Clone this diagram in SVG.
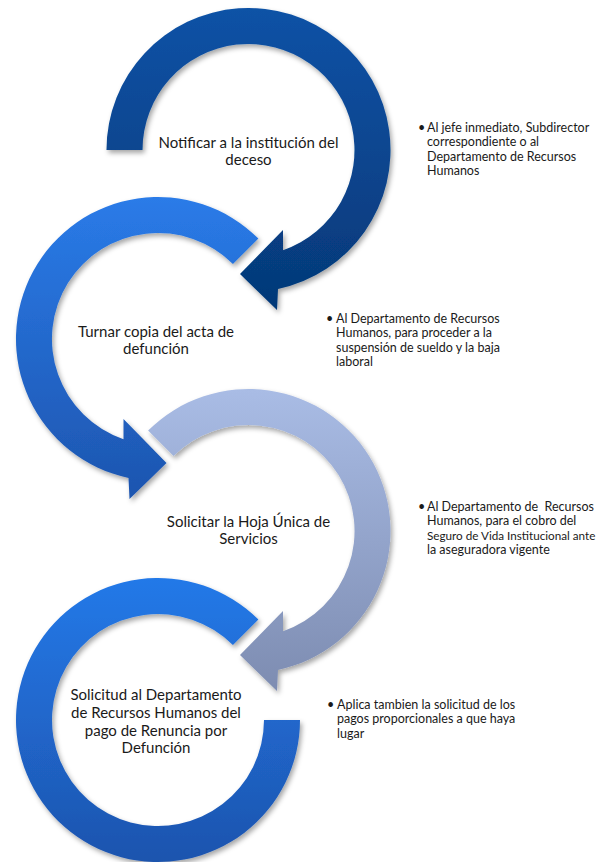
<svg xmlns="http://www.w3.org/2000/svg" width="604" height="862" viewBox="0 0 604 862">
  <defs>
    <linearGradient id="g1" x1="0" y1="0" x2="0" y2="1">
      <stop offset="0" stop-color="#0D52A6"/>
      <stop offset="1" stop-color="#053877"/>
    </linearGradient>
    <linearGradient id="g2" x1="0" y1="0" x2="0" y2="1">
      <stop offset="0" stop-color="#2A7BE8"/>
      <stop offset="1" stop-color="#1D55AF"/>
    </linearGradient>
    <linearGradient id="g3" x1="0" y1="0" x2="0" y2="1">
      <stop offset="0" stop-color="#A9BCE5"/>
      <stop offset="1" stop-color="#7D8CB1"/>
    </linearGradient>
    <linearGradient id="g4" x1="0" y1="0" x2="0" y2="1">
      <stop offset="0" stop-color="#2479E8"/>
      <stop offset="1" stop-color="#1D54AE"/>
    </linearGradient>
    <filter id="sh" x="-10%" y="-10%" width="125%" height="125%">
      <feDropShadow dx="2" dy="3" stdDeviation="2.5" flood-color="#000" flood-opacity="0.35"/>
    </filter>
  </defs>
  <style>
    .node-text { font-family: Lato, "Open Sans", "Liberation Sans", sans-serif; font-size: 15px; fill: #1a1a1a; text-anchor: middle; }
    .note { font-family: Lato, "Open Sans", "Liberation Sans", sans-serif; font-size: 12.5px; fill: #1a1a1a; }
    .arrow { filter: url(#sh); }
  </style>

  <g id="connectors">
    <path id="arrow4" class="arrow" fill="url(#g4)" d="M258.4,619.6 A142,142 0 1 0 300,720 L264,720 A106,106 0 1 1 232.95,645.05 Z"/>
    <path id="arrow3" class="arrow" fill="url(#g3)" d="M148.1,430.6 A142,142 0 1 1 278,669.9 L277,691 L240,655 L283,611 L283,631.2 A106,106 0 1 0 173.55,456.05 Z"/>
    <path id="arrow2" class="arrow" fill="url(#g2)" d="M258.4,238.6 A142,142 0 1 0 128.5,477.9 L129.5,499 L166.5,463 L123.5,419 L123.5,439.2 A106,106 0 1 1 232.95,264.05 Z"/>
    <path id="arrow1" class="arrow" fill="url(#g1)" d="M106.5,150 A142,142 0 1 1 278,288.9 L277,310 L240,274 L283,230 L283,250.2 A106,106 0 1 0 142.5,150 Z"/>
  </g>

  <g id="node1">
    <text class="node-text" x="248.5" y="148">Notificar a la institución del</text>
    <text class="node-text" x="248.5" y="165">deceso</text>
  </g>
  <g id="node2">
    <text class="node-text" x="156" y="337">Turnar copia del acta de</text>
    <text class="node-text" x="156" y="354">defunción</text>
  </g>
  <g id="node3">
    <text class="node-text" x="248.5" y="527">Solicitar la Hoja Única de</text>
    <text class="node-text" x="248.5" y="544">Servicios</text>
  </g>
  <g id="node4">
    <text class="node-text" x="156" y="700">Solicitud al Departamento</text>
    <text class="node-text" x="156" y="718">de Recursos Humanos del</text>
    <text class="node-text" x="156" y="735.5">pago de Renuncia por</text>
    <text class="node-text" x="156" y="752.5">Defunción</text>
  </g>

  <g id="note1">
    <text class="note" x="418" y="132">•</text>
    <text class="note" x="427" y="132">Al jefe inmediato, Subdirector</text>
    <text class="note" x="427" y="146.3">correspondiente o al</text>
    <text class="note" x="427" y="160.5">Departamento de Recursos</text>
    <text class="note" x="427" y="174.8">Humanos</text>
  </g>
  <g id="note2">
    <text class="note" x="326" y="323">•</text>
    <text class="note" x="336" y="323">Al Departamento de Recursos</text>
    <text class="note" x="336" y="337.3">Humanos, para proceder a la</text>
    <text class="note" x="336" y="351.5">suspensión de sueldo y la baja</text>
    <text class="note" x="336" y="365.8">laboral</text>
  </g>
  <g id="note3">
    <text class="note" x="418" y="511">•</text>
    <text class="note" x="427" y="511" xml:space="preserve">Al Departamento de  Recursos</text>
    <text class="note" x="427" y="525.3">Humanos, para el cobro del</text>
    <text class="note" x="427" y="539.5" style="font-size:11.7px">Seguro de Vida Institucional ante</text>
    <text class="note" x="427" y="553.8">la aseguradora vigente</text>
  </g>
  <g id="note4">
    <text class="note" x="327" y="709">•</text>
    <text class="note" x="337" y="709">Aplica tambien la solicitud de los</text>
    <text class="note" x="337" y="723.3">pagos proporcionales a que haya</text>
    <text class="note" x="337" y="737.5">lugar</text>
  </g>
</svg>
